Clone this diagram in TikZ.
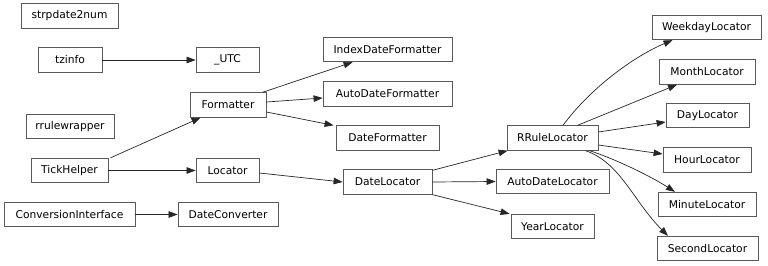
\documentclass[tikz,border=0pt]{standalone}
\usepackage{fontspec}
\setmainfont{DejaVu Sans}
\usetikzlibrary{arrows.meta}
\begin{document}
\begin{tikzpicture}[x=1pt,y=-1pt,
  cls/.style={draw=black!65, line width=0.8pt, fill=white, inner sep=0pt,
    minimum height=24.5pt, font=\fontsize{10.7pt}{12pt}\selectfont},
  dep/.style={draw=black!85, line width=0.7pt, -{Triangle[length=9pt,width=6.5pt]}}]
\useasboundingbox[fill=white] (0,0) rectangle (768,265);
% column 1
\node[cls, minimum width=97pt]  (s2n) at (69.5,16)    {strpdate2num};
\node[cls, minimum width=64pt]  (tz)  at (70,60)      {tzinfo};
\node[cls, minimum width=88pt]  (rrw) at (70,126.5)   {rrulewrapper};
\node[cls, minimum width=77pt]  (th)  at (69.5,170.5) {TickHelper};
\node[cls, minimum width=131pt] (ci)  at (69.5,214.5) {ConversionInterface};
% column 2
\node[cls, minimum width=63pt]  (utc) at (227.5,60)    {\_UTC};
\node[cls, minimum width=76pt]  (fmt) at (228,105)     {Formatter};
\node[cls, minimum width=63pt]  (loc) at (227.5,170.5) {Locator};
\node[cls, minimum width=100pt] (dc)  at (228,214.5)   {DateConverter};
% column 3
\node[cls, minimum width=129pt] (idf) at (387.5,49.5) {IndexDateFormatter};
\node[cls, minimum width=129pt] (adf) at (387.5,94)   {AutoDateFormatter};
\node[cls, minimum width=103pt] (df)  at (387.5,138)  {DateFormatter};
\node[cls, minimum width=89pt]  (dl)  at (387.5,182)  {DateLocator};
% column 4
\node[cls, minimum width=91pt]  (rr)  at (552.5,138)   {RRuleLocator};
\node[cls, minimum width=113pt] (adl) at (552.5,181.5) {AutoDateLocator};
\node[cls, minimum width=83pt]  (yl)  at (552.5,226.5) {YearLocator};
% column 5
\node[cls, minimum width=109pt] (wd)  at (706.5,27.5)  {WeekdayLocator};
\node[cls, minimum width=96pt]  (ml)  at (707,72)      {MonthLocator};
\node[cls, minimum width=83pt]  (day) at (707.5,115.5) {DayLocator};
\node[cls, minimum width=88pt]  (hr)  at (707,160)     {HourLocator};
\node[cls, minimum width=98pt]  (mn)  at (707,204.5)   {MinuteLocator};
\node[cls, minimum width=101pt] (sec) at (707.5,248.5) {SecondLocator};
% inheritance edges
\draw[dep] (tz.east) -- (utc.west);
\draw[dep] ([xshift=2pt]th.north east) -- ([xshift=11pt]fmt.south west);
\draw[dep] (th.east) -- (loc.west);
\draw[dep] (ci.east) -- (dc.west);
\draw[dep] ([xshift=-4pt]fmt.north east) -- ([xshift=30pt]idf.south west);
\draw[dep] ([yshift=3pt]fmt.east) -- ([yshift=-4pt]adf.west);
\draw[dep] ([yshift=-7pt]fmt.east) -- ([xshift=-2pt]df.north west);
\draw[dep] ([yshift=-2.5pt]loc.east) -- (dl.west);
\draw[dep] ([yshift=-1pt]dl.north east) -- ([xshift=1pt]rr.south west);
\draw[dep] (dl.east) -- (adl.west);
\draw[dep] (dl.south east) -- ([xshift=-1pt]yl.north west);
\draw[dep] ([xshift=10.5pt]rr.north) .. controls +(28,-38) and +(-38,16) .. ([xshift=-34pt]wd.south);
\draw[dep] ([xshift=25pt]rr.north) -- ([xshift=-30pt]ml.south);
\draw[dep] ([yshift=6pt]rr.east) -- ([yshift=-6.5pt]day.west);
\draw[dep] ([yshift=-7pt]rr.east) -- ([yshift=6pt]hr.west);
\draw[dep] ([xshift=37pt]rr.south) .. controls +(25,8) and +(-25,-16) .. ([xshift=-32pt]mn.north);
\draw[dep] ([xshift=33pt]rr.south) .. controls +(35,12) and +(-35,-35) .. ([xshift=-39.5pt]sec.north);
\end{tikzpicture}
\end{document}
